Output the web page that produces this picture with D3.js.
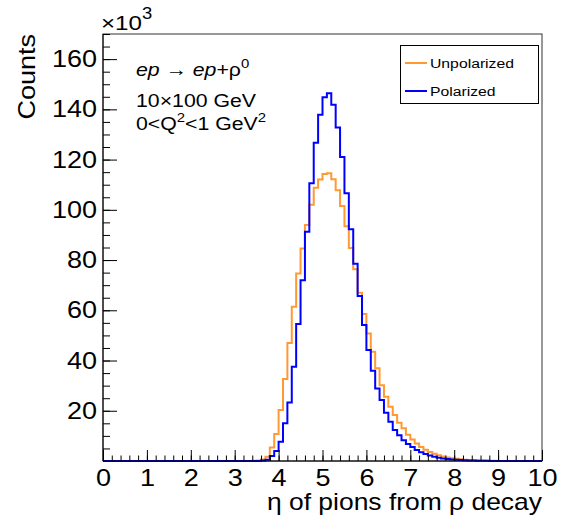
<!DOCTYPE html>
<html>
<head>
<meta charset="utf-8">
<script src="https://cdn.jsdelivr.net/npm/d3@7"></script>
<style>
  body { margin: 0; background: #fff; }
  svg text { font-family: "Liberation Sans", Arial, Helvetica, sans-serif; }
</style>
</head>
<body>
<div id="chart"></div>
<script>
// bins: 100 bins of width 0.1 from 0 to 10, values in units of 10^3 counts
const binEdges = d3.range(0, 101).map(i => i / 10);

// only the non-zero part is listed, starting at eta = 3.3
const firstBin = 33;
const unpolarized = [
  0.02, 0.06, 0.2, 0.6, 1.7, 5.4, 10.7,
  20.3, 32.6, 47, 61.4, 74.6, 84.6, 94, 102, 108.8, 112.1,
  114.3, 114.6, 112.2, 107.8, 101.5, 93.5, 84.8, 76.3, 67, 58.5,
  50.8, 43.5, 36.9, 30.2, 25.6, 21.6, 18.3, 15.2, 13, 10.5,
  8.6, 7.0, 5.6, 4.5, 3.6, 2.9, 2.3, 1.8, 1.4, 1.1,
  0.85, 0.65, 0.5, 0.38, 0.29, 0.22, 0.16, 0.12, 0.09, 0.06,
  0.04, 0.03, 0.02, 0.01
];
const polarized = [
  0, 0, 0.03, 0.15, 0.5, 2, 4,
  7.7, 15, 23.3, 37.5, 54.5, 72, 91.3, 110.6, 126.7, 137.9,
  144.8, 146.4, 141.8, 132.8, 121, 106.6, 92.3, 78.5, 65.7, 54.1,
  44.2, 35.9, 28.9, 24.3, 19.2, 15.6, 12.3, 10.3, 8.3, 6.8,
  5.6, 4.4, 3.5, 2.8, 2.2, 1.7, 1.3, 1.0, 0.8, 0.6,
  0.45, 0.35, 0.27, 0.2, 0.15, 0.11, 0.08, 0.06, 0.04, 0.03,
  0.02, 0.01, 0, 0
];

const xTicks = d3.range(0, 11);
const yTicks = [20, 40, 60, 80, 100, 120, 140, 160];

const seriesNames = ["Unpolarized", "Polarized"];
const seriesColors = ["#ff9933", "#0000ff"];

const W = 573, H = 522;
const pLeft = 103, pRight = 542, pTop = 34, pBottom = 461;
const SX = 1.15; // the ROOT font is wider than Liberation Sans

const svg = d3.select("#chart").append("svg")
    .attr("width", W)
    .attr("height", H);

const x = d3.scaleLinear().domain([0, 10]).range([pLeft, pRight]);
const y = d3.scaleLinear().domain([0, 170]).range([pBottom, pTop]);

function fullBins(vals) {
    const out = new Array(100).fill(0);
    vals.forEach((v, i) => { out[firstBin + i] = v; });
    return out;
}

function addText(px, py, size, anchor, rot) {
    return svg.append("text")
        .attr("transform", `translate(${px},${py})` + (rot ? ` rotate(${rot})` : "") + ` scale(${SX},1)`)
        .attr("font-size", size)
        .attr("text-anchor", anchor || "start");
}

// frame
svg.append("rect")
    .attr("x", pLeft).attr("y", pTop)
    .attr("width", pRight - pLeft).attr("height", pBottom - pTop)
    .attr("fill", "none")
    .attr("stroke", "#333")
    .attr("stroke-width", 1);

// histograms as step lines
const line = d3.line().x(d => x(d[0])).y(d => y(d[1]));
[unpolarized, polarized].forEach((vals, k) => {
    const bins = fullBins(vals);
    const pts = [[0, 0]];
    bins.forEach((v, i) => {
        pts.push([binEdges[i], v]);
        pts.push([binEdges[i + 1], v]);
    });
    pts.push([10, 0]);
    svg.append("path")
        .attr("d", line(pts))
        .attr("fill", "none")
        .attr("stroke", seriesColors[k])
        .attr("stroke-width", 2);
});

// x axis
const xMajor = d3.axisBottom(x).tickValues(xTicks).tickSize(-11).tickPadding(8)
    .tickFormat(d3.format("d"));
const xMinor = d3.axisBottom(x).tickValues(d3.range(0, 50).map(i => i / 5))
    .tickSize(-5.5).tickFormat("");
svg.append("g").attr("transform", `translate(0,${pBottom})`).call(xMinor)
    .call(g => g.select(".domain").remove());
const gx = svg.append("g").attr("transform", `translate(0,${pBottom})`).call(xMajor);
gx.select(".domain").remove();
gx.selectAll("text").attr("font-size", 23.5).attr("fill", "#000")
    .attr("dy", "0.71em")
    .attr("transform", `scale(${SX},1)`);

// y axis
const yMajor = d3.axisLeft(y).tickValues(yTicks).tickSize(-14).tickPadding(6)
    .tickFormat(d3.format("d"));
const yMinor = d3.axisLeft(y).tickValues(d3.range(5, 171, 5))
    .tickSize(-7).tickFormat("");
svg.append("g").attr("transform", `translate(${pLeft},0)`).call(yMinor)
    .call(g => g.select(".domain").remove());
const gy = svg.append("g").attr("transform", `translate(${pLeft},0)`).call(yMajor);
gy.select(".domain").remove();
gy.selectAll("text").attr("font-size", 23.5).attr("fill", "#000")
    .attr("x", -6 / SX)
    .attr("transform", `scale(${SX},1)`);

// axis lines
svg.append("line").attr("x1", pLeft).attr("x2", pRight).attr("y1", pBottom).attr("y2", pBottom)
    .attr("stroke", "#000");
svg.append("line").attr("x1", pLeft).attr("x2", pLeft).attr("y1", pTop).attr("y2", pBottom)
    .attr("stroke", "#000");

// titles
addText(pRight, 510, 23, "end").text("η of pions from ρ decay");
addText(35, pTop, 23.5, "end", -90).text("Counts");

const exp = addText(101, 30, 21);
exp.append("tspan").text("×10");
exp.append("tspan").attr("font-size", 16).attr("dy", -11).text("3");

// process label
const t1 = addText(136, 75.5, 18.5);
t1.append("tspan").attr("font-style", "italic").text("ep");
t1.append("tspan").text(" → ");
t1.append("tspan").attr("font-style", "italic").text("ep");
t1.append("tspan").text("+ρ");
t1.append("tspan").attr("font-size", 13).attr("dy", -8).text("0");

addText(136, 106.5, 18.5).text("10×100 GeV");

const t3 = addText(136, 130, 18.5);
t3.append("tspan").text("0<Q");
t3.append("tspan").attr("font-size", 13).attr("dy", -8).text("2");
t3.append("tspan").attr("dy", 8).text("<1 GeV");
t3.append("tspan").attr("font-size", 13).attr("dy", -8).text("2");

// legend
svg.append("rect")
    .attr("x", 400.5).attr("y", 45.5)
    .attr("width", 138).attr("height", 58)
    .attr("fill", "#fff")
    .attr("stroke", "#000");
seriesNames.forEach((name, i) => {
    const ly = 63 + i * 28;
    svg.append("line")
        .attr("x1", 405).attr("x2", 427)
        .attr("y1", ly).attr("y2", ly)
        .attr("stroke", seriesColors[i])
        .attr("stroke-width", 2);
    addText(430, ly + 4.5, 13.7).text(name);
});
</script>
</body>
</html>
